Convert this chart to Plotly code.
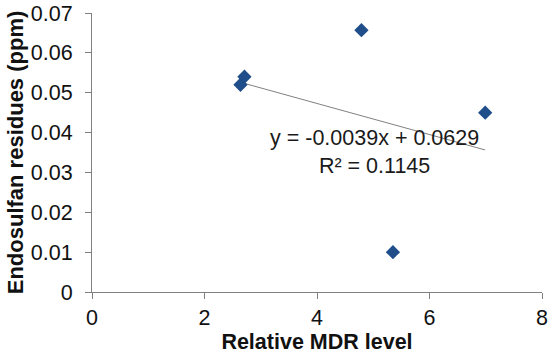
import plotly.graph_objects as go

mdr_level = [2.64, 2.71, 4.79, 5.35, 6.99]
endosulfan = [0.052, 0.054, 0.0657, 0.010, 0.045]
x_ticks = [0, 2, 4, 6, 8]
y_ticks = [0, 0.01, 0.02, 0.03, 0.04, 0.05, 0.06, 0.07]
y_tick_labels = ["0", "0.01", "0.02", "0.03", "0.04", "0.05", "0.06", "0.07"]
slope = -0.0039
intercept = 0.0629
r_squared = 0.1145

trend_x = [min(mdr_level), max(mdr_level)]
trend_y = [intercept + slope * v for v in trend_x]

font = "Liberation Sans, Arial, sans-serif"
axis_color = "#808080"
fs = 21.5

fig = go.Figure()
fig.add_trace(go.Scatter(x=trend_x, y=trend_y, mode="lines",
                         line=dict(color="#808080", width=1), showlegend=False, hoverinfo="skip"))
fig.add_trace(go.Scatter(x=mdr_level, y=endosulfan, mode="markers",
                         marker=dict(symbol="diamond", size=11, color="#1F4E8A"),
                         showlegend=False))

fig.add_annotation(x=5.02, y=0.0352, xref="x", yref="y",
                   text=f"y = {slope:.4f}x + {intercept:.4f}<br>R² = {r_squared:.4f}",
                   showarrow=False, align="center",
                   font=dict(family=font, size=fs, color="#1a1a1a"))

fig.update_layout(
    width=548, height=360,
    margin=dict(l=92, r=6, t=13, b=68, autoexpand=False),
    paper_bgcolor="white", plot_bgcolor="white",
    font=dict(family=font, size=fs, color="#111111"),
)
fig.update_xaxes(range=[0, 8], tickvals=x_ticks, showgrid=False, zeroline=False,
                 showline=True, linecolor=axis_color, linewidth=1,
                 ticks="outside", ticklen=6, tickcolor=axis_color,
                 tickfont=dict(size=fs), automargin=False, ticklabeloverflow="allow",
                 title=dict(text="<b>Relative MDR level</b>", font=dict(size=fs), standoff=0))
fig.update_yaxes(range=[0, 0.07], tickvals=y_ticks, ticktext=y_tick_labels, showgrid=False, zeroline=False,
                 showline=True, linecolor=axis_color, linewidth=1,
                 ticks="outside", ticklen=6, tickcolor=axis_color,
                 tickfont=dict(size=fs), automargin=False, ticklabelstandoff=8,
                 ticklabeloverflow="allow",
                 title=dict(text="<b>Endosulfan residues (ppm)</b>", font=dict(size=22), standoff=1))

fig.write_html("out.html", config={"displayModeBar": False},
               post_script="document.body.style.margin='0';")
